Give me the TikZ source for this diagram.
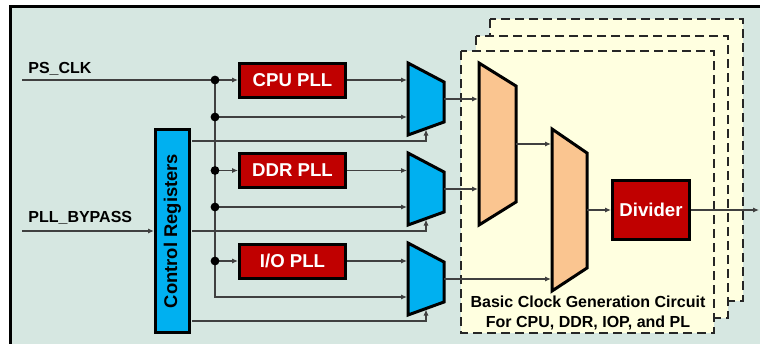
\documentclass[tikz,border=0pt]{standalone}
\usepackage{fontspec}
\setmainfont{Liberation Sans}
\usetikzlibrary{positioning,arrows.meta}
\definecolor{bgcol}{HTML}{D6E7E1}
\definecolor{boxyel}{HTML}{FFFFE0}
\definecolor{pllred}{HTML}{C00000}
\definecolor{muxblue}{HTML}{00B0F0}
\definecolor{muxorng}{HTML}{FAC590}

\begin{document}
\begin{tikzpicture}[x=0.5pt,y=-0.5pt,>={Latex[length=3pt,width=2.6pt]},
sig/.style={draw=black!75,line width=0.6pt},
pll/.style={draw,line width=1.5pt,fill=pllred,text=white,font=\bfseries\fontsize{9.3}{11}\selectfont,minimum width=53pt,minimum height=17pt,inner sep=0pt},
mux/.style={draw,line width=1.5pt,line join=miter},
dot/.style={circle,fill,inner sep=0pt,minimum size=4.4pt},
lbl/.style={font=\bfseries\fontsize{8}{10}\selectfont,inner sep=0pt},
gencirc/.style={draw=black!85,fill=boxyel,line width=1pt,dash pattern=on 4.5pt off 2.5pt}]
\useasboundingbox (0,0) rectangle (760,343); \clip (0,0) rectangle (760,343);
\fill[white] (0,0) rectangle (760,343);
\draw[line width=1.5pt,fill=bgcol] (10.5,6.5) rectangle (800,400);
% stacked clock generation circuits
\foreach \l/\t/\r/\b in {490/19/743/301,476/36/728/318,461/51/714/333} \draw[gencirc] (\l,\t) rectangle (\r,\b);
\node[lbl,align=center] (bcg) at (588,313) {Basic Clock Generation Circuit\\For CPU, DDR, IOP, and PL};
% inputs and plls
\node[lbl,anchor=west] (psclk) at (28,69) {PS\_CLK}; \coordinate (psin) at (22,80);
\node[lbl,anchor=west] (bypass) at (28,218) {PLL\_BYPASS}; \coordinate (byin) at (22,231);
\node[draw,line width=1.5pt,fill=muxblue,minimum width=17pt,minimum height=101.5pt,inner sep=0pt,font=\bfseries\fontsize{9.2}{11}\selectfont] (ctrl) at (172.5,231) {\rotatebox{90}{Control Registers}};
\node[pll] (cpu) at (292.5,80) {CPU PLL}; \node[pll] (ddr) at (292.5,170.5) {DDR PLL}; \node[pll] (io) at (292.5,261) {I/O PLL};
% bypass muxes
\foreach \k in {0,1,2}{
\draw[mux,fill=muxblue] (408,63+90*\k) -- (444,82+90*\k) -- (444,122+90*\k) -- (408,135+90*\k) -- cycle;
\coordinate (mi\k a) at (407,80+90.5*\k); \coordinate (mi\k b) at (407,117+90*\k);
\coordinate (ms\k) at (426,129.5+90*\k); \coordinate (mo\k) at (444,99+90*\k); \coordinate (cs\k) at (192,141+90*\k);
\draw[sig,->] (cs\k) -| (ms\k);}
% clock select muxes
\draw[mux,fill=muxorng] (479,63) -- (516,86) -- (516,202) -- (479,225) -- cycle;
\draw[mux,fill=muxorng] (552,129) -- (587,153) -- (587,268) -- (552,291) -- cycle;
\coordinate (oa) at (478,99); \coordinate (ob) at (478,189); \coordinate (oo) at (516,144);
\coordinate (pa) at (551,144); \coordinate (pb) at (551,279); \coordinate (po) at (587,210);
\node[pll,minimum width=38.5pt,minimum height=29.5pt] (div) at (651,210) {Divider}; \coordinate (clkout) at (759,210);
% wiring
\coordinate (b1) at (215,80); \coordinate (b2) at (215,117); \coordinate (b3) at (215,170.5);
\coordinate (b4) at (215,207); \coordinate (b5) at (215,261);
\draw[sig,->] (psin) -- (cpu); \draw[sig,->] (byin) -- (ctrl);
\draw[sig,->] (b1) |- (mi2b); \draw[sig,->] (b2) -- (mi0b); \draw[sig,->] (b3) -- (ddr);
\draw[sig,->] (b4) -- (mi1b); \draw[sig,->] (b5) -- (io);
\draw[sig,->] (cpu) -- (mi0a); \draw[sig,->] (ddr) -- (mi1a); \draw[sig,->] (io) -- (mi2a);
\draw[sig,->] (mo0) -- (oa); \draw[sig,->] (mo1) -- (ob); \draw[sig,->] (mo2) -- (pb);
\draw[sig,->] (oo) -- (pa); \draw[sig,->] (po) -- (div); \draw[sig,->] (div) -- (clkout);
\foreach \d in {1,...,5} \node[dot] (d\d) at (b\d) {};
\end{tikzpicture}
\end{document}
